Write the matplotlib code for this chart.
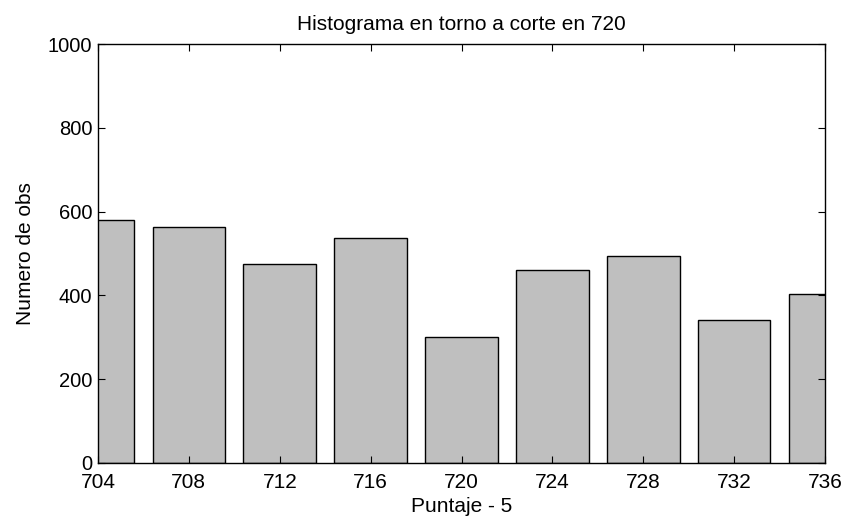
import matplotlib
matplotlib.use("Agg")
import matplotlib.pyplot as plt

categories = [704, 708, 712, 716, 720, 724, 728, 732, 736]
counts = [580, 563, 476, 537, 300, 460, 494, 341, 403]
xticks = [704, 708, 712, 716, 720, 724, 728, 732, 736]
yticks = [0, 200, 400, 600, 800, 1000]

plt.rcParams['font.family'] = ['Liberation Sans', 'DejaVu Sans']

fig = plt.figure(figsize=(8.44, 5.25), dpi=100)
ax = fig.add_axes([98/844, 62/525, (825-98)/844, (463-44)/525])

ax.bar(categories, counts, width=3.2, color='#bfbfbf', edgecolor='black', linewidth=1.0)
ax.set_xlim(704, 736)
ax.set_ylim(0, 1000)
ax.set_xticks(xticks)
ax.set_yticks(yticks)
ax.tick_params(direction='in', top=True, right=True, length=5, width=0.8)
ax.tick_params(axis='x', pad=7, labelsize=15)
ax.tick_params(axis='y', pad=4, labelsize=14.5)
for s in ax.spines.values():
    s.set_linewidth(1.0)
ax.set_title('Histograma en torno a corte en 720', fontsize=15, pad=10)
ax.set_xlabel('Puntaje - 5', fontsize=15, labelpad=4)
ax.set_ylabel('Numero de obs', fontsize=15, labelpad=9)

fig.savefig('out.png', dpi=100)
